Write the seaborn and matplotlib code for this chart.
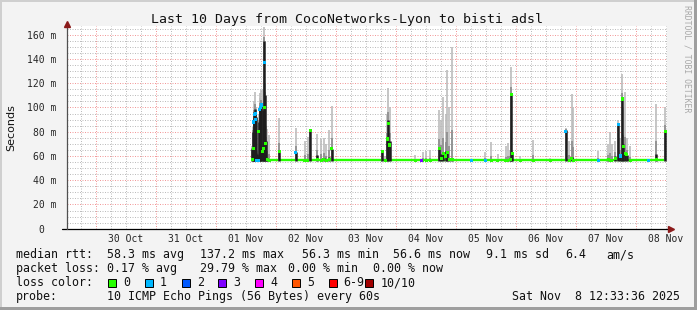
import numpy as np
import pandas as pd
import matplotlib
matplotlib.use("Agg")
import matplotlib.pyplot as plt
import seaborn as sns
from matplotlib.patches import Rectangle
from matplotlib.lines import Line2D

W, H = 697, 310

# ---------------- data (hours since 2025-11-01 00:00) ----------------
x_start_h, x_end_h = -59.45, 180.55
data_start_h, data_end_h = 14.4, 179.8
baseline_ms = 56.3

spike_h = [14.6, 15.0, 15.2, 15.5, 15.8, 16.1, 16.4, 17.0, 17.3, 17.6, 17.9, 18.2, 18.8, 19.1, 19.4, 19.7, 20.0, 20.6, 21.4,
           25.4, 32.0, 35.6, 36.8, 37.8, 40.6, 42.2, 43.2, 44.2, 45.4, 46.4,
           66.7, 67.8, 68.6, 69.1, 69.6,
           79.8, 82.8, 84.2, 85.8, 89.5, 90.2, 91.1, 92.0, 92.7, 93.5, 94.6,
           107.8, 110.2, 112.8, 116.0, 116.8, 117.8, 118.2, 118.7, 121.8, 127.1, 133.8,
           140.0, 141.5, 142.4, 143.1, 153.1, 157.1, 157.8, 158.4, 159.8,
           161.1, 161.8, 162.6, 163.1, 163.8, 164.4, 165.8, 176.2, 179.8]
spike_dark = [66, 80, 90, 96, 99, 92, 62, 60, 88, 100, 101, 104, 68, 98, 155, 110, 72, 58, 57,
              64, 63, 57, 57, 81, 61, 57, 58, 57, 59, 66,
              65, 57, 74, 90, 72,
              56.5, 56.5, 56.5, 56.5, 66, 62, 63, 64, 63, 58, 58,
              56.5, 56.5, 56.5, 56.5, 56.5, 58, 111, 63, 56.5, 56.5, 56.5,
              81.5, 57, 59, 57, 56.5, 58, 57, 57, 60,
              86.6, 62, 107, 70, 63, 61, 56.5, 62, 80.6]
spike_light = [68, 84, 92, 105, 113, 100, 64, 64, 95, 108, 112, 114, 72, 115, 166, 120, 85, 82, 77,
               91, 83, 72, 76, 81, 78, 74, 75, 70, 81, 101,
               65, 60, 95, 116, 100,
               61, 63.5, 64, 65, 98, 90, 109, 95, 131, 100, 150,
               63, 71.5, 62, 68, 71, 65, 133.6, 65, 60, 73, 58,
               83, 72, 111, 100, 64, 70, 80, 70, 72,
               90, 75, 128, 100, 113, 75, 68, 103, 100]
spike_med = [57, 66, 88, 94, 95, 90, 56.5, 56.3, 80, 98, 100, 102, 64, 66, 137.2, 100, 70, 57, 56.5,
             64, 62.5, 56.5, 56.5, 81, 57, 56.5, 57, 56.5, 57, 66,
             64, 56.5, 74, 87, 69,
             56.3, 56.3, 56.3, 56.3, 66, 58, 62, 60, 63, 57, 57,
             56.3, 56.3, 56.3, 56.3, 56.3, 57, 111, 62, 56.3, 56.3, 56.3,
             80, 56.5, 58, 56.5, 56.3, 57, 56.5, 56.5, 58,
             86, 60, 107, 68, 62, 61, 56.3, 57, 80]
spike_loss = [0, 0, 1, 1, 1, 1, 1, 1, 0, 1, 1, 1, 0, 0, 1, 0, 0, 0, 0,
              0, 1, 0, 0, 0, 0, 0, 0, 0, 0, 0,
              0, 0, 0, 0, 0,
              0, 0, 0, 0, 0, 0, 0, 0, 0, 0, 0,
              0, 0, 0, 0, 0, 0, 0, 0, 0, 0, 0,
              1, 0, 0, 0, 0, 0, 0, 0, 0,
              1, 1, 0, 0, 0, 0, 0, 0, 0]

dot_h = [82.2, 102.2, 107.8, 153.1, 173.1]
dot_loss = [3, 1, 1, 1, 1]

day_labels = ["30 Oct", "31 Oct", "01 Nov", "02 Nov", "03 Nov",
              "04 Nov", "05 Nov", "06 Nov", "07 Nov", "08 Nov"]
day_label_h = [-36, -12, 12, 36, 60, 84, 108, 132, 156, 180]
midnight_h = [-48, -24, 0, 24, 48, 72, 96, 120, 144, 168]

y_ticks = [0, 20, 40, 60, 80, 100, 120, 140, 160]
y_tick_labels = ["0  ", "20 m", "40 m", "60 m", "80 m", "100 m", "120 m", "140 m", "160 m"]

loss_labels = ["0", "1", "2", "3", "4", "5", "6-9", "10/10"]
loss_colors = ["#26ff00", "#00b8ff", "#0059ff", "#7e00ff", "#ff00ff", "#ff5500", "#ff0000", "#a10000"]

title = "Last 10 Days from CocoNetworks-Lyon to bisti adsl"
line1 = [("median rtt:", 16), ("58.3 ms avg", 107.3), ("137.2 ms max", 200),
         ("56.3 ms min", 302), ("56.6 ms now", 393.3), ("9.1 ms sd", 486),
         ("6.4", 565), ("am/s", 606.7)]
line2 = [("packet loss:", 16), ("0.17 % avg", 107.3), ("29.79 % max", 200),
         ("0.00 % min", 288), ("0.00 % now", 373)]
probe_text = "10 ICMP Echo Pings (56 Bytes) every 60s"
date_text = "Sat Nov  8 12:33:36 2025"

# ---------------- figure ----------------
sns.set_style("white")
plt.rcParams["font.family"] = ["DejaVu Sans Mono", "DejaVu Sans"]

fig = plt.figure(figsize=(W / 100, H / 100), dpi=100, facecolor="#f3f3f3")

def fx(x):
    return x / W

def fy(y):
    return 1 - y / H

ax_left, ax_right, ax_top, ax_bot = 67, 667, 26, 228.7
ax = fig.add_axes([fx(ax_left), fy(ax_bot), (ax_right - ax_left) / W, (ax_bot - ax_top) / H])
ax.set_facecolor("white")
ax.set_xlim(x_start_h, x_end_h)
ax.set_ylim(0, (ax_bot - ax_top) / 1.2125)

# grid
dot = (0, (1, 1.5))
for h in np.arange(-54, 181, 6):
    if h % 24 != 0:
        ax.axvline(h, color="#bdbdbd", lw=0.72, ls=dot, zorder=0)
for v in np.arange(5, 167, 5):
    if v % 20 != 0:
        ax.axhline(v, color="#bdbdbd", lw=0.72, ls=dot, zorder=0)
for h in midnight_h:
    ax.axvline(h, color="#f29a9a", lw=0.72, ls=dot, zorder=0.5)
for v in y_ticks[1:]:
    ax.axhline(v, color="#f29a9a", lw=0.72, ls=dot, zorder=0.5)

# median baseline
base_df = pd.DataFrame({"h": [data_start_h, data_end_h], "ms": [baseline_ms, baseline_ms]})
sns.lineplot(data=base_df, x="h", y="ms", color=loss_colors[0], lw=1.7, ax=ax, zorder=2)

# smoke
sp = pd.DataFrame({"h": spike_h, "dark": spike_dark, "light": spike_light,
                   "med": spike_med, "loss": spike_loss})
ax.vlines(sp["h"], 56.0, sp["light"], color="#bcbcbc", lw=1.2, zorder=3)
mid_top = sp["dark"] + (sp["light"] - sp["dark"]) * 0.25
ax.vlines(sp["h"], 56.0, mid_top, color="#8c8c8c", lw=1.2, zorder=3.5)
dk = sp[sp["dark"] > 57]
ax.vlines(dk["h"], 55.5, dk["dark"], color="#1e1e1e", lw=1.8, zorder=4)

# median markers coloured by loss
sp["col"] = [loss_colors[i] for i in sp["loss"]]
sns.scatterplot(data=sp, x="h", y="med", hue="col", palette={c: c for c in loss_colors},
                marker="s", s=5, linewidth=0, legend=False, ax=ax, zorder=5)
dots = pd.DataFrame({"h": dot_h, "ms": [baseline_ms] * len(dot_h),
                     "col": [loss_colors[i] for i in dot_loss]})
sns.scatterplot(data=dots, x="h", y="ms", hue="col", palette={c: c for c in loss_colors},
                marker="s", s=5, linewidth=0, legend=False, ax=ax, zorder=5)

# axes
for s in ax.spines.values():
    s.set_visible(False)
ax.set_xlabel("")
ax.set_ylabel("")
ax.set_xticks(day_label_h)
ax.set_xticklabels(day_labels, fontsize=7, family="DejaVu Sans Mono")
ax.tick_params(axis="x", length=0, pad=4)
ax.set_yticks(y_ticks)
ax.set_yticklabels(y_tick_labels, fontsize=7, family="DejaVu Sans Mono")
ax.tick_params(axis="y", length=3, width=0.7, color="#707070", pad=4.5)
ax.set_yticks(np.arange(0, 167, 5), minor=True)
ax.tick_params(axis="y", which="minor", length=2, width=0.6, color="#9a9a9a")

# axis lines with arrows
ax.add_line(Line2D([-5 / 600, 1.002], [0, 0], transform=ax.transAxes, color="black", lw=0.9, clip_on=False, zorder=6))
ax.add_line(Line2D([0, 0], [0, 1.005], transform=ax.transAxes, color="#505050", lw=0.9, clip_on=False, zorder=6))
ax.plot([0], [1.012], marker="^", ms=4.5, color="#8b1a1a", transform=ax.transAxes, clip_on=False, zorder=7)
ax.plot([1.006], [0], marker=">", ms=4.5, color="#8b1a1a", transform=ax.transAxes, clip_on=False, zorder=7)

# texts
fig.text(fx(347), fy(19), title, ha="center", va="center", fontsize=9.5, family="DejaVu Sans Mono", color="#111111")
fig.text(fx(11), fy(128), "Seconds", rotation=90, ha="center", va="center", fontsize=8, family="DejaVu Sans", color="#111111")
fig.text(fx(687), fy(59), "RRDTOOL / TOBI OETIKER", rotation=270, ha="center", va="center",
         fontsize=5.9, family="DejaVu Sans Mono", color="#a8a8a8")

fs = 8.4
for txt, x in line1:
    fig.text(fx(x), fy(258.3), txt, ha="left", va="baseline", fontsize=fs, color="#111111")
for txt, x in line2:
    fig.text(fx(x), fy(272.3), txt, ha="left", va="baseline", fontsize=fs, color="#111111")
fig.text(fx(16), fy(286.3), "loss color:", ha="left", va="baseline", fontsize=fs, color="#111111")
for i, (lab, col) in enumerate(zip(loss_labels, loss_colors)):
    sx = 108.3 + 36.7 * i
    fig.add_artist(Rectangle((fx(sx), fy(286.5)), 8 / W, 8 / H, transform=fig.transFigure,
                             facecolor=col, edgecolor="black", lw=0.7))
    fig.text(fx(sx + 15), fy(286.3), lab, ha="left", va="baseline", fontsize=fs, color="#111111")
fig.text(fx(16), fy(300.3), "probe:", ha="left", va="baseline", fontsize=fs, color="#111111")
fig.text(fx(107.3), fy(300.3), probe_text, ha="left", va="baseline", fontsize=fs, color="#111111")
fig.text(fx(680), fy(300.3), date_text, ha="right", va="baseline", fontsize=fs, color="#111111")

# frame
fig.add_artist(Rectangle((0, 1 - 2 / H), 1, 2 / H, transform=fig.transFigure, facecolor="#cfcfcf", edgecolor="none"))
fig.add_artist(Rectangle((0, 0), 2 / W, 1, transform=fig.transFigure, facecolor="#cfcfcf", edgecolor="none"))
fig.add_artist(Rectangle((0, 0), 1, 3 / H, transform=fig.transFigure, facecolor="#9e9e9e", edgecolor="none"))
fig.add_artist(Rectangle((1 - 3 / W, 0), 3 / W, 1, transform=fig.transFigure, facecolor="#9e9e9e", edgecolor="none"))

fig.savefig("out.png", dpi=100, facecolor=fig.get_facecolor())
